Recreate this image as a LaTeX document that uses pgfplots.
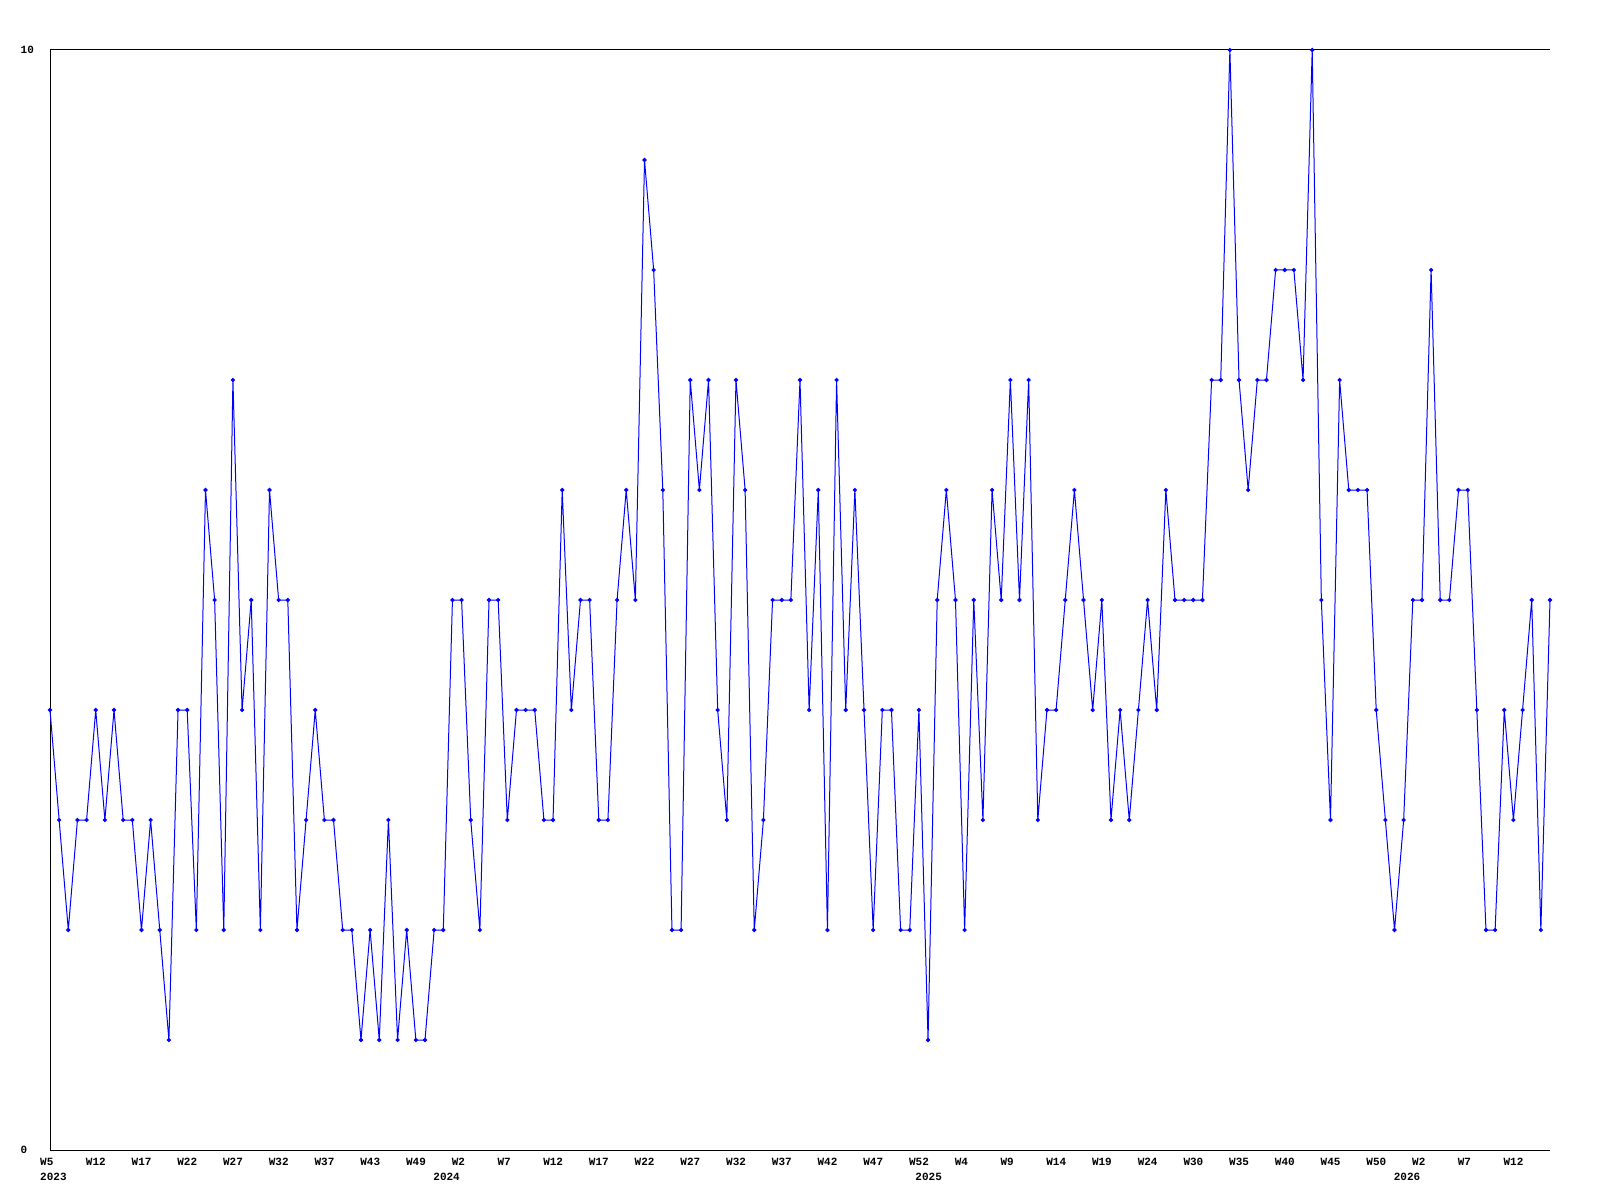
\documentclass[border=0pt]{standalone}
\usepackage{pgfplots}
\pgfplotsset{compat=1.18}
\usepackage{fontspec}
\setmonofont{Liberation Mono}
\begin{document}
\begin{tikzpicture}[x=1pt,y=1pt]
\useasboundingbox (0,0) rectangle (1600,1200);
\begin{axis}[
  at={(50pt,50pt)}, anchor=south west,
  width=1500pt, height=1100pt, scale only axis,
  xmin=0, xmax=164, ymin=0, ymax=10,
  axis line style={draw=none},
  ytick={0,10},
  xtick={0,5,...,160},
  xticklabels={{W5\\2023},W12,W17,W22,W27,W32,W37,W43,W49,W2,W7,W12,W17,W22,W27,W32,W37,W42,W47,W52,W4,W9,W14,W19,W24,W30,W35,W40,W45,W50,W2,W7,W12},
  extra x ticks={41.9,94.6,146.9},
  extra x tick labels={2024,2025,2026},
  extra x tick style={xticklabel style={xshift=10pt, yshift=-15pt}},
  major tick length=0pt,
  /pgf/number format/assume math mode=true,
  ticklabel style={font=\ttfamily\bfseries\fontsize{11}{15}\selectfont, inner sep=0pt},
  xticklabel style={anchor=north west, xshift=-10pt, yshift=-8pt, align=left},
  yticklabel style={anchor=west, xshift=-29.5pt},
  clip=false,
]
\draw[black, line width=1pt] (rel axis cs:0,1) -- (rel axis cs:1,1);
\draw[black, line width=1pt] (rel axis cs:0,0) -- (rel axis cs:1,0);
\draw[black, line width=1pt] (rel axis cs:0,0) -- (rel axis cs:0,1);
\addplot[color={rgb,255:red,0;green,0;blue,255}, line width=1pt, mark=*, mark size=1.6pt] table[x=i,y=v] {
i v
0 4
1 3
2 2
3 3
4 3
5 4
6 3
7 4
8 3
9 3
10 2
11 3
12 2
13 1
14 4
15 4
16 2
17 6
18 5
19 2
20 7
21 4
22 5
23 2
24 6
25 5
26 5
27 2
28 3
29 4
30 3
31 3
32 2
33 2
34 1
35 2
36 1
37 3
38 1
39 2
40 1
41 1
42 2
43 2
44 5
45 5
46 3
47 2
48 5
49 5
50 3
51 4
52 4
53 4
54 3
55 3
56 6
57 4
58 5
59 5
60 3
61 3
62 5
63 6
64 5
65 9
66 8
67 6
68 2
69 2
70 7
71 6
72 7
73 4
74 3
75 7
76 6
77 2
78 3
79 5
80 5
81 5
82 7
83 4
84 6
85 2
86 7
87 4
88 6
89 4
90 2
91 4
92 4
93 2
94 2
95 4
96 1
97 5
98 6
99 5
100 2
101 5
102 3
103 6
104 5
105 7
106 5
107 7
108 3
109 4
110 4
111 5
112 6
113 5
114 4
115 5
116 3
117 4
118 3
119 4
120 5
121 4
122 6
123 5
124 5
125 5
126 5
127 7
128 7
129 10
130 7
131 6
132 7
133 7
134 8
135 8
136 8
137 7
138 10
139 5
140 3
141 7
142 6
143 6
144 6
145 4
146 3
147 2
148 3
149 5
150 5
151 8
152 5
153 5
154 6
155 6
156 4
157 2
158 2
159 4
160 3
161 4
162 5
163 2
164 5
};
\end{axis}
\end{tikzpicture}
\end{document}
